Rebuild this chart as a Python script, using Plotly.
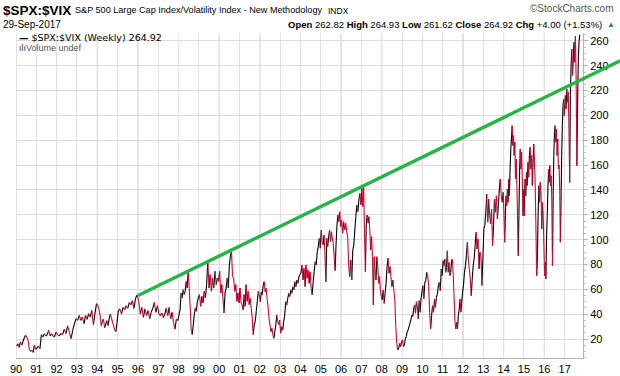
import pandas as pd
import plotly.graph_objects as go

# ---------------- data ----------------
years = list(range(1990, 2018))
y1990 = [14.4, 16.2, 13.3, 17.6, 15.0, 18.0, 20.8, 23.0, 21.5, 19.0, 11.7, 10.0, 10.9, 9.2, 15.0, 11.7]
y1991 = [12.8, 14.4, 12.2, 23.5, 21.6, 24.3, 22.4, 23.5, 27.0, 22.4, 24.3, 22.4, 21.6, 25.6]
y1992 = [23.5, 22.4, 24.3, 23.5, 27.8, 24.3, 30.5, 25.6, 20.3, 27.0, 32.3, 36.4]
y1993 = [35.0, 39.0, 35.0, 37.7, 32.3, 39.0, 35.8, 40.4, 37.7, 43.0, 31.5, 40.4, 48.5]
y1994 = [47.0, 44.0, 38.8, 30.7, 34.0, 36.1, 29.0, 32.0, 34.8, 30.7, 36.0, 40.0, 37.4, 33.4, 30.7, 27.0, 25.9, 33.4]
y1995 = [42.8, 44.2, 40.1, 45.5, 43.6, 46.8, 44.7, 49.5, 47.4, 50.9, 44.7, 52.8, 55.4]
y1996 = [50.9, 40.1, 45.5, 37.4, 44.2, 38.8, 42.8, 36.1, 41.5, 44.7, 49.5, 41.5, 46.8]
y1997 = [40.1, 38.8, 40.9, 37.2, 40.1, 44.7, 38.8, 45.5, 36.1, 41.5, 33.4, 28.0, 36.1, 34.8]
y1998 = [39.6, 43.6, 57.0, 53.0, 59.7, 55.7, 58.4, 66.4, 61.0, 74.0, 61.0, 45.0, 26.2, 23.5, 31.5, 39.6, 45.0, 42.3, 50.3, 53.0]
y1999 = [55.7, 46.3, 54.4, 49.0, 58.4, 53.0, 63.8, 82.6, 61.0, 71.8, 58.4, 69.1, 61.0, 74.5, 63.8, 69.1, 66.4]
y2000 = [74.5, 57.0, 63.8, 53.0, 40.9, 57.0, 61.0, 69.1, 61.0, 79.3, 86.6, 91.1, 70.5, 69.1, 58.4, 63.8, 50.3, 57.0, 49.0]
y2001 = [61.0, 49.0, 47.7, 43.6, 55.7, 46.3, 63.8, 50.3, 58.4, 47.7, 53.0, 45.0, 36.9, 23.5, 31.5, 34.2, 42.3, 50.3, 58.4, 55.7]
y2002 = [50.0, 58.1, 55.4, 63.5, 66.2, 58.1, 60.8, 52.8, 46.0, 36.6, 31.3, 25.9, 28.6, 23.2, 20.5, 25.9, 31.3, 39.3, 34.0, 31.3, 35.3]
y2003 = [24.6, 29.9, 27.2, 34.0, 39.3, 50.0, 47.4, 52.8, 56.8, 54.1, 59.5, 56.8, 62.1, 59.5, 66.2, 62.1, 67.5, 64.8, 70.2, 72.0]
y2004 = [72.9, 79.6, 67.5, 76.9, 62.1, 79.6, 68.9, 75.6, 64.8, 74.2, 60.8, 55.4, 66.2, 74.2, 82.3, 79.6, 90.3, 94.4, 101.0, 93.0]
y2005 = [107.8, 98.4, 95.7, 103.8, 87.7, 66.0, 101.0, 94.4, 102.4, 107.8, 98.4, 106.4, 101.0, 97.0, 85.0, 75.0, 95.7, 111.8, 119.9, 114.5, 122.5, 110.5]
y2006 = [115.8, 105.1, 114.5, 107.8, 113.2, 106.4, 102.4, 78.3, 70.2, 83.6, 67.5, 91.7, 95.7, 107.8, 118.5, 127.9, 122.5, 131.9, 137.3, 127.9]
y2007 = [141.3, 126.6, 142.0, 105.0, 74.2, 113.2, 119.9, 113.2, 118.5, 107.8, 91.7, 102.4, 86.3, 47.4, 86.3, 75.6, 67.5, 86.3, 78.3, 64.8, 70.2, 59.5, 54.1]
y2008 = [51.4, 59.5, 48.7, 56.8, 64.8, 78.3, 85.0, 72.9, 78.3, 70.2, 62.1, 67.5, 59.5, 51.4, 29.9, 16.5, 11.1, 12.5, 16.5, 13.8, 17.9]
y2009 = [19.2, 13.8, 15.2, 20.5, 21.9, 25.9, 27.2, 29.9, 32.6, 35.3, 39.3, 38.0, 43.4, 47.4, 40.7, 50.0, 46.8, 36.1, 50.9, 41.5, 52.2, 57.6]
y2010 = [63.0, 52.2, 65.6, 67.0, 73.7, 71.0, 63.0, 41.5, 28.1, 38.8, 46.8, 41.5, 52.2, 45.5, 53.6, 56.2, 63.0, 65.6, 58.9, 76.4, 71.0]
y2011 = [83.1, 79.1, 84.4, 73.7, 77.7, 91.1, 73.7, 81.7, 71.0, 73.7, 83.1, 84.4, 71.0, 52.2, 33.4, 28.1, 33.4, 28.1, 38.8, 44.2, 52.2, 41.5, 49.5, 57.6]
y2012 = [63.0, 73.7, 79.1, 87.1, 97.9, 84.4, 76.4, 68.3, 54.9, 68.3, 79.1, 84.4, 95.2, 105.9, 92.5, 100.5, 76.4, 89.8, 87.1, 63.0, 84.4]
y2013 = [108.6, 111.3, 122.0, 136.8, 114.0, 132.8, 119.3, 112.6, 124.7, 95.2, 111.3, 132.8, 122.0, 135.4, 116.6, 127.4, 140.8, 148.9, 135.4, 130.1, 138.1]
y2014 = [119.3, 97.9, 119.3, 135.4, 127.4, 140.8, 130.0, 148.9, 135.4, 156.9, 173.0, 181.0, 191.8, 175.7, 183.8, 167.7,
         178.5, 148.9, 165.0, 143.5, 119.3, 87.1, 119.3, 154.2, 173.0, 156.9, 170.3, 148.9, 119.3, 140.8]
y2015 = [119.0, 148.9, 135.4, 154.2, 143.5, 162.3, 150.2, 167.7, 174.4, 156.9, 167.7, 143.5, 162.3, 177.0, 163.6, 143.5,
         108.6, 71.0, 87.1, 119.3, 143.5, 130.0, 146.2, 138.1, 108.6, 130.0, 119.3, 95.2]
y2016 = [71.0, 81.7, 68.3, 103.2, 119.3, 140.8, 156.9, 146.2, 159.6, 143.5, 151.5, 130.0, 79.0, 135.4, 167.7, 186.4,
         191.8, 178.4, 189.1, 167.7, 181.0, 156.9, 160.0, 140.8, 97.9, 130.0, 167.7, 191.8, 207.9, 213.3, 199.9]
y2017 = [216.0, 205.2, 221.3, 210.6, 218.7, 189.1, 146.0, 216.0, 240.1, 253.6, 232.1, 245.5, 258.9, 242.8, 264.0,
         229.4, 159.6, 207.9, 242.8, 258.9, 264.92]
series = [y1990, y1991, y1992, y1993, y1994, y1995, y1996, y1997, y1998, y1999, y2000, y2001, y2002, y2003,
          y2004, y2005, y2006, y2007, y2008, y2009, y2010, y2011, y2012, y2013, y2014, y2015, y2016, y2017]
last_date = "2017-09-29"

trend_dates = ["1996-01-05", "2019-09-25"]
trend_values = [55.0, 244.0]

y_ticks = [20, 40, 60, 80, 100, 120, 140, 160, 180, 200, 220, 240, 260]

# ---------------- build dates for the readings ----------------
dates, vals = [], []
for yr, v in zip(years, series):
    start = pd.Timestamp(f"{yr}-01-01")
    n = len(v)
    if yr == years[-1]:
        end = pd.Timestamp(last_date)
        fr = [(i + 1) / n for i in range(n)]
    else:
        end = pd.Timestamp(f"{yr + 1}-01-01")
        fr = [(i + 0.5) / n for i in range(n)]
    dates += [start + (end - start) * f for f in fr]
    vals += v

# up-moves black, down-moves red
bx, by, rx, ry = [], [], [], []
for i in range(len(vals) - 1):
    if vals[i + 1] >= vals[i]:
        bx += [dates[i], dates[i + 1], None]; by += [vals[i], vals[i + 1], None]
    else:
        rx += [dates[i], dates[i + 1], None]; ry += [vals[i], vals[i + 1], None]

W, H = 620, 376
ML, MR, MT, MB = 16, 0, 33, 18
plot_right = 583
x_dom_end = (plot_right - ML) / (W - ML - MR)
x0 = pd.Timestamp("1990-01-01")
x1 = pd.Timestamp("2017-11-27")
x2_end = x0 + (x1 - x0) * (1 / x_dom_end)
yr_range = [4.7, 266.4]

def px(x):
    return (x - ML) / (W - ML - MR)

def py(y):
    return (H - MB - y) / (H - MT - MB)

RED = "#cc0a36"
fig = go.Figure()
fig.add_trace(go.Scatter(x=bx, y=by, mode="lines", line=dict(color="#000000", width=1.1),
                         hoverinfo="skip", showlegend=False))
fig.add_trace(go.Scatter(x=rx, y=ry, mode="lines", line=dict(color=RED, width=1.1),
                         hoverinfo="skip", showlegend=False))
fig.add_trace(go.Scatter(x=trend_dates, y=trend_values, mode="lines", xaxis="x2", yaxis="y2",
                         line=dict(color="#2db14b", width=3.5), hoverinfo="skip", showlegend=False))

shapes = []
for yr in range(1990, 2018, 2):
    shapes.append(dict(type="line", xref="x", yref="paper", x0=f"{yr}-01-01", x1=f"{yr}-01-01",
                       y0=0, y1=1, line=dict(color="#c4c4c4", width=1), layer="below"))

FONT = "Liberation Sans, Arial, sans-serif"
ann = [
    dict(x=px(1), y=py(10), text="<b>$SPX:$VIX</b>", font=dict(size=13.5, color="#000", family=FONT), xanchor="left"),
    dict(x=px(73), y=py(10), text="S&amp;P 500 Large Cap Index/Volatility Index - New Methodology",
         font=dict(size=9.1, color="#000", family=FONT), xanchor="left"),
    dict(x=px(326), y=py(11), text="INDX", font=dict(size=8.5, color="#000", family=FONT), xanchor="left"),
    dict(x=px(616), y=py(9), text="©StockCharts.com", font=dict(size=10, color="#555", family=FONT), xanchor="right"),
    dict(x=px(1), y=py(24), text="29-Sep-2017", font=dict(size=10, color="#000", family=FONT), xanchor="left"),
    dict(x=px(604), y=py(24),
         text="<b>Open</b> 262.82 <b>High</b> 264.93 <b>Low</b> 261.62 <b>Close</b> 264.92 <b>Chg</b> +4.00 (+1.53%)",
         font=dict(size=9.5, color="#000", family=FONT), xanchor="right"),
    dict(x=px(605), y=py(24), text="▲", font=dict(size=8, color="#2e8b3a", family=FONT), xanchor="left"),
    dict(x=px(17), y=py(37), text="<b>—</b> $SPX:$VIX (Weekly) 264.92",
         font=dict(size=9.5, color="#000", family="DejaVu Sans"), xanchor="left"),
    dict(x=px(17), y=py(48), text="ılı<span style='color:#555'>Volume undef</span>",
         font=dict(size=9, color="#333", family=FONT), xanchor="left"),
]
for a in ann:
    a.update(xref="paper", yref="paper", showarrow=False, yanchor="middle")

fig.update_layout(
    width=W, height=H, margin=dict(l=ML, r=MR, t=MT, b=MB),
    paper_bgcolor="white", plot_bgcolor="rgba(0,0,0,0)",
    xaxis=dict(type="date", domain=[0, x_dom_end], range=[x0, x1], tickformat="%y", dtick="M12",
               tick0="1990-01-01", showgrid=True, gridcolor="#e2e2e2", gridwidth=1, zeroline=False,
               showline=True, linecolor="#b4b4b4", ticks="", tickfont=dict(size=11, color="#000", family=FONT),
               ticklabelstandoff=1),
    yaxis=dict(range=yr_range, side="right", anchor="x", tickvals=y_ticks, showgrid=True, gridcolor="#dcdcdc",
               zeroline=False, showline=True, linecolor="#b4b4b4", ticks="outside", ticklen=4,
               tickcolor="#b4b4b4", tickfont=dict(size=11, color="#000", family=FONT),
               minor=dict(dtick=5, tick0=0, ticks="outside", ticklen=2, tickcolor="#c0c0c0", showgrid=False)),
    xaxis2=dict(type="date", domain=[0, 1], range=[x0, x2_end], anchor="y2", visible=False),
    yaxis2=dict(range=yr_range, domain=[0, 1], anchor="x2", visible=False),
    shapes=shapes, annotations=ann,
)

fig.write_html("out.html", config={"displayModeBar": False},
               post_script="document.body.style.margin='0px';")
